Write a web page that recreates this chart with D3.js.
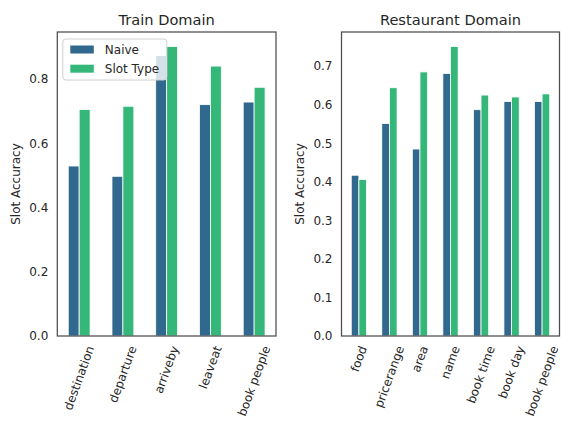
<!DOCTYPE html>
<html>
<head>
<meta charset="utf-8">
<script src="https://cdn.jsdelivr.net/npm/d3@7"></script>
<style>
  html, body { margin: 0; padding: 0; background: #fff; }
  svg { display: block; font-family: "DejaVu Sans", sans-serif; }
</style>
</head>
<body>
<svg id="chart" width="561" height="421"></svg>
<script>
// ---- data ----
const seriesNames = ["Naive", "Slot Type"];
const seriesColors = ["#31688e", "#35b779"];

const trainCats = ["destination", "departure", "arriveby", "leaveat", "book people"];
const trainNaive = [0.529, 0.497, 0.873, 0.720, 0.728];
const trainSlot = [0.705, 0.715, 0.901, 0.840, 0.774];
const trainTicks = [0.0, 0.2, 0.4, 0.6, 0.8];

const restCats = ["food", "pricerange", "area", "name", "book time", "book day", "book people"];
const restNaive = [0.417, 0.551, 0.485, 0.681, 0.587, 0.608, 0.608];
const restSlot = [0.406, 0.644, 0.685, 0.751, 0.625, 0.620, 0.628];
const restTicks = [0.0, 0.1, 0.2, 0.3, 0.4, 0.5, 0.6, 0.7];

const svg = d3.select("#chart");
const textColor = "#262626";

function panel(cfg) {
  const { left, right, top, bottom, cats, series, ticks, title, outer, legend, ylabelX } = cfg;
  const g = svg.append("g");
  const maxV = d3.max(series.flat());
  const y = d3.scaleLinear().domain([0, maxV * 1.05]).range([bottom, top]);
  const x = d3.scaleBand().domain(cats).range([left, right]).paddingInner(0).paddingOuter(outer);
  const bw = x.bandwidth() * 0.25;

  // bars
  series.forEach((vals, si) => {
    g.append("g").selectAll("rect")
      .data(vals)
      .join("rect")
      .attr("x", (d, i) => x(cats[i]) + x.bandwidth() / 2 - bw + si * bw)
      .attr("y", d => y(d))
      .attr("width", bw)
      .attr("height", d => y(0) - y(d))
      .attr("fill", seriesColors[si])
      .attr("stroke", "#fff")
      .attr("stroke-width", 0.8);
  });

  // frame
  g.append("rect")
    .attr("x", left).attr("y", top)
    .attr("width", right - left).attr("height", bottom - top)
    .attr("fill", "none").attr("stroke", "#4d4d4d").attr("stroke-width", 1.25);

  // y axis
  const ya = g.append("g")
    .attr("transform", `translate(${left},0)`)
    .call(d3.axisLeft(y).tickValues(ticks).tickFormat(d3.format(".1f")).tickSize(0).tickPadding(9));
  ya.select(".domain").remove();
  ya.selectAll("text").attr("fill", textColor).style("font-size", "12px").style("font-family", "DejaVu Sans");

  // x axis
  const xa = g.append("g")
    .attr("transform", `translate(0,${bottom})`)
    .call(d3.axisBottom(x).tickSize(0).tickPadding(0));
  xa.select(".domain").remove();
  xa.selectAll("text")
    .attr("fill", textColor)
    .style("font-size", "12px")
    .style("font-family", "DejaVu Sans")
    .attr("text-anchor", "middle")
    .attr("dominant-baseline", "central")
    .attr("y", 0).attr("dy", null)
    .each(function () {
      const L = this.getComputedTextLength();
      const h = 12 * 1.17;
      const a = 70 * Math.PI / 180;
      const H = L * Math.sin(a) + h * Math.cos(a);
      d3.select(this).attr("transform", `translate(0,${8 + H / 2}) rotate(-70)`);
    });

  // title
  g.append("text")
    .attr("x", (left + right) / 2).attr("y", 25)
    .attr("text-anchor", "middle")
    .attr("fill", textColor)
    .style("font-size", "14.6px")
    .text(title);

  // y label
  g.append("text")
    .attr("transform", `translate(${ylabelX},${(top + bottom) / 2}) rotate(-90)`)
    .attr("text-anchor", "middle")
    .attr("dominant-baseline", "central")
    .attr("fill", textColor)
    .style("font-size", "12px")
    .text("Slot Accuracy");

  if (legend) {
    const lg = g.append("g").attr("transform", `translate(${left + 5.5},${top + 7})`);
    lg.append("rect")
      .attr("x", 0).attr("y", 0).attr("width", 104).attr("height", 41)
      .attr("rx", 3).attr("ry", 3)
      .attr("fill", "#fff").attr("fill-opacity", 0.8)
      .attr("stroke", "#d0d0d0").attr("stroke-width", 1);
    seriesNames.forEach((name, i) => {
      const yy = 10.5 + i * 19.2;
      lg.append("rect")
        .attr("x", 7.5).attr("y", yy - 4).attr("width", 23.5).attr("height", 8)
        .attr("fill", seriesColors[i]);
      lg.append("text")
        .attr("x", 42).attr("y", yy)
        .attr("dominant-baseline", "central")
        .attr("fill", textColor)
        .style("font-size", "12px")
        .text(name);
    });
  }
}

panel({
  left: 57.3, right: 276, top: 32, bottom: 336,
  cats: trainCats, series: [trainNaive, trainSlot], ticks: trainTicks,
  title: "Train Domain", outer: 0, legend: true, ylabelX: 16
});

panel({
  left: 341.5, right: 559.5, top: 32, bottom: 336,
  cats: restCats, series: [restNaive, restSlot], ticks: restTicks,
  title: "Restaurant Domain", outer: 0.07, legend: false, ylabelX: 300
});
</script>
</body>
</html>
